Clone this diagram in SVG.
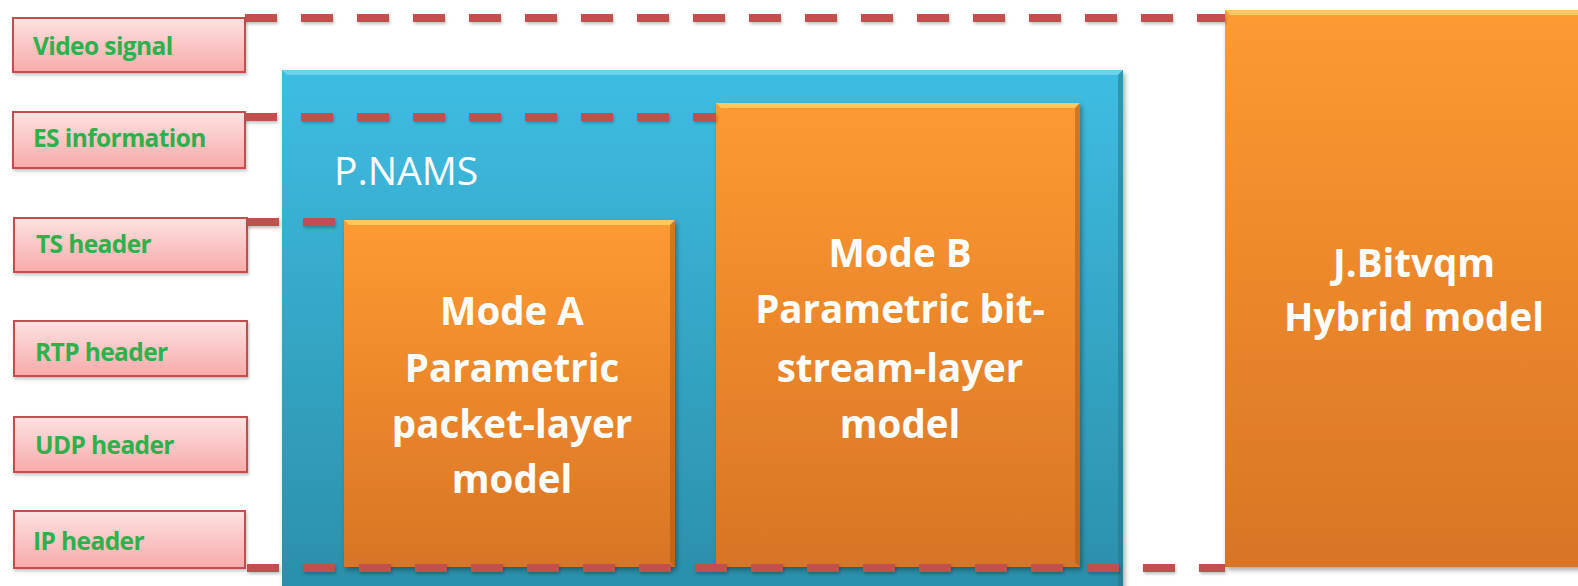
<svg xmlns="http://www.w3.org/2000/svg" width="1578" height="586" viewBox="0 0 1578 586">
<style>
.lbl rect.box{fill:url(#pink);stroke:#c0504d;stroke-width:2}
.lbl text{font-family:"Open Sans","Liberation Sans",sans-serif;font-weight:bold;font-size:24.5px;fill:#2eb04c;letter-spacing:-0.6px}
.mtxt{font-family:"Open Sans","Liberation Sans",sans-serif;font-weight:bold;font-size:38.5px;fill:#ffffff;text-anchor:middle}
.ptxt{font-family:"Open Sans","Liberation Sans",sans-serif;font-size:39px;fill:#ffffff}
.dash{stroke:#c0504d;stroke-width:8;stroke-dasharray:32 24;fill:none}
</style>
<defs>
<linearGradient id="pink" x1="0" y1="0" x2="0" y2="1"><stop offset="0" stop-color="#fde2e2"/><stop offset="1" stop-color="#f8aaaa"/></linearGradient>
<linearGradient id="orange" x1="0" y1="0" x2="0" y2="1"><stop offset="0" stop-color="#fe9a31"/><stop offset="1" stop-color="#d97426"/></linearGradient>
<linearGradient id="blue" x1="0" y1="0" x2="0" y2="1"><stop offset="0" stop-color="#3ebde2"/><stop offset="1" stop-color="#2b8ea9"/></linearGradient>
<filter id="sh" x="-5%" y="-5%" width="110%" height="110%"><feDropShadow dx="2" dy="3" stdDeviation="2.5" flood-color="#000" flood-opacity="0.35"/></filter>
<filter id="lsh" x="-5%" y="-5%" width="110%" height="120%"><feDropShadow dx="1" dy="2" stdDeviation="1.5" flood-color="#000" flood-opacity="0.25"/></filter>
</defs>
<rect width="1578" height="586" fill="#ffffff"/>

<g id="label-video" class="lbl"><rect class="box" x="13" y="18" width="232" height="54" filter="url(#lsh)"/><text x="33" y="55">Video signal</text></g>
<g id="label-es" class="lbl"><rect class="box" x="13" y="112" width="232" height="56" filter="url(#lsh)"/><text x="33" y="147">ES information</text></g>
<g id="label-ts" class="lbl"><rect class="box" x="14" y="218" width="233" height="54" filter="url(#lsh)"/><text x="36" y="253">TS header</text></g>
<g id="label-rtp" class="lbl"><rect class="box" x="14" y="321" width="233" height="55" filter="url(#lsh)"/><text x="35" y="361">RTP header</text></g>
<g id="label-udp" class="lbl"><rect class="box" x="14" y="417" width="233" height="55" filter="url(#lsh)"/><text x="35" y="454">UDP header</text></g>
<g id="label-ip" class="lbl"><rect class="box" x="14" y="511" width="231" height="57" filter="url(#lsh)"/><text x="33" y="550">IP header</text></g>

<g id="pnams">
<rect x="282" y="70" width="841" height="530" fill="url(#blue)" filter="url(#sh)"/>
<polygon points="282,70 1123,70 1118,75 287,75" fill="#7fdcf3" opacity="0.7"/>
<polygon points="1123,70 1123,600 1118,600 1118,75" fill="#1f6f86" opacity="0.5"/>
<text class="ptxt" x="334" y="185">P.NAMS</text>
</g>

<g id="mode-a">
<rect x="344" y="220" width="331" height="347" fill="url(#orange)" filter="url(#sh)"/>
<polygon points="344,220 675,220 670,225 349,225" fill="#ffd266" opacity="0.8"/>
<polygon points="675,220 675,567 670,562 670,225" fill="#9c5014" opacity="0.45"/>
<text class="mtxt"><tspan x="512" y="325">Mode A</tspan><tspan x="512" y="382">Parametric</tspan><tspan x="512" y="438">packet-layer</tspan><tspan x="512" y="493">model</tspan></text>
</g>

<g id="mode-b">
<rect x="716" y="103" width="364" height="464" fill="url(#orange)" filter="url(#sh)"/>
<polygon points="716,103 1080,103 1075,108 721,108" fill="#ffd266" opacity="0.8"/>
<polygon points="1080,103 1080,567 1075,562 1075,108" fill="#9c5014" opacity="0.45"/>
<text class="mtxt"><tspan x="900" y="267">Mode B</tspan><tspan x="900" y="323">Parametric bit-</tspan><tspan x="900" y="382">stream-layer</tspan><tspan x="900" y="438">model</tspan></text>
</g>

<g id="jbitvqm">
<rect x="1225" y="10" width="380" height="557" fill="url(#orange)" filter="url(#sh)"/>
<polygon points="1225,10 1605,10 1600,15 1230,15" fill="#ffd266" opacity="0.8"/>
<text class="mtxt"><tspan x="1414" y="277">J.Bitvqm</tspan><tspan x="1414" y="331">Hybrid model</tspan></text>
</g>

<g id="connectors" filter="url(#lsh)">
<line class="dash" x1="245" y1="18" x2="1225" y2="18"/>
<line class="dash" x1="245" y1="117" x2="716" y2="117"/>
<line class="dash" x1="247" y1="222" x2="344" y2="222"/>
<line class="dash" x1="247" y1="568" x2="1225" y2="568"/>
</g>
</svg>
